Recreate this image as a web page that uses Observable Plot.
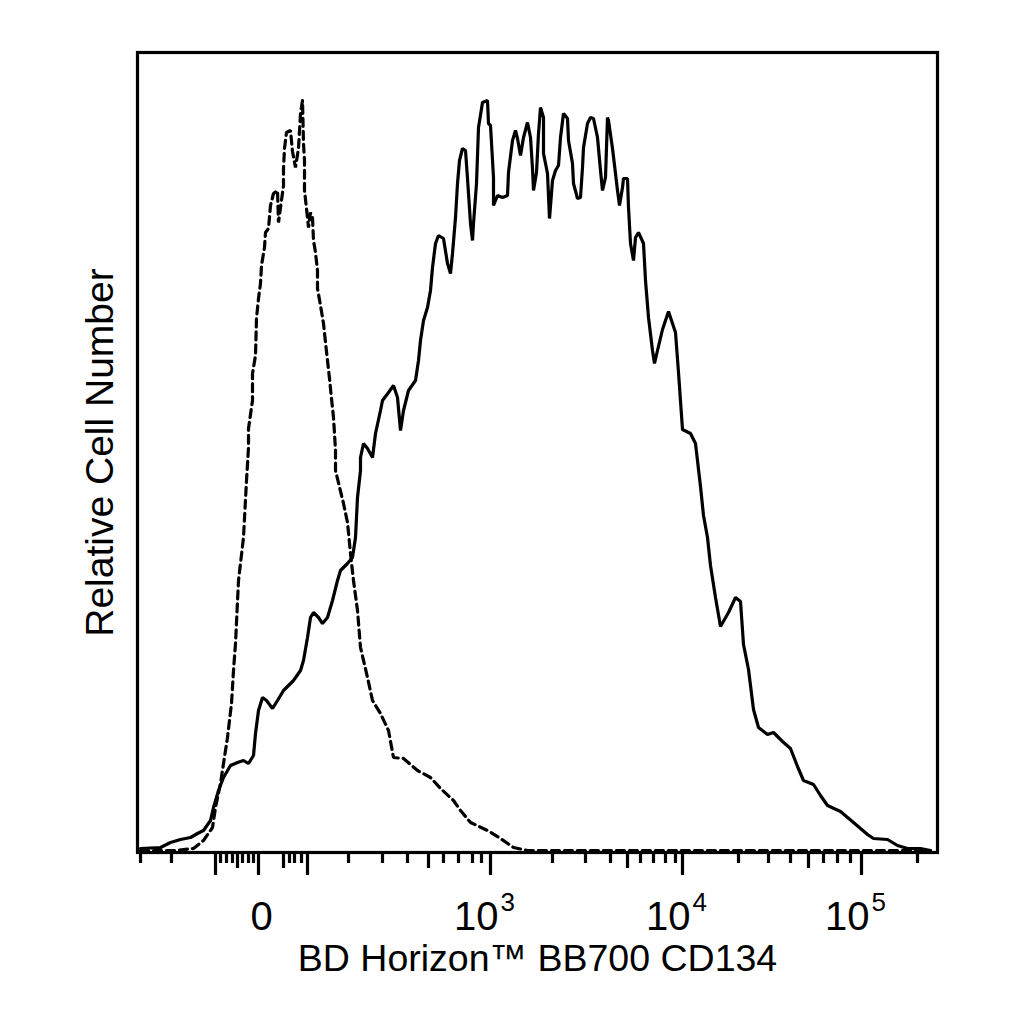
<!DOCTYPE html>
<html><head><meta charset="utf-8">
<script src="https://cdn.jsdelivr.net/npm/d3@7"></script>
<script src="https://cdn.jsdelivr.net/npm/@observablehq/plot@0.6"></script>
<style>body{margin:0;background:#fff;} svg{display:block;}</style>
</head><body><div id="chart"></div>
<script>
// Display channel (0–800) of the biexponential axis, and relative counts
const dashedChannel = [3,38,56,66,75,78,83,86,90,94,96,98,101,106,109,111,111,115,115,118,119,121,123,124,127,128,131,133,136,140,141,146,146,147,149,153,155,158,161,163,165,166,167,167,169,171,173,175,176,178,180,180,183,186,188,190,192,194,196,197,198,198,206,210,213,216,220,223,230,235,243,251,256,266,280,293,303,316,323,333,350,363,376,390,463,563,663,793];
const dashedCount = [2,2,4,12,25,45,69,89,115,149,182,209,272,315,372,405,424,452,479,497,534,554,569,587,605,620,624,647,659,662,630,667,684,704,720,722,701,685,704,739,752,709,692,662,644,625,640,635,612,600,582,564,547,529,510,492,474,454,435,419,402,382,349,330,299,272,242,205,175,152,139,122,95,94,82,75,64,52,42,30,22,14,5,2,2,2,2,2];

const solidChannel = [3,23,33,43,53,60,66,73,76,81,86,93,100,106,111,116,118,121,125,129,135,140,146,156,163,166,170,173,176,181,185,190,195,200,203,210,215,218,220,223,223,226,230,235,238,243,245,251,256,260,263,266,271,278,281,283,286,290,293,295,298,301,306,310,313,315,318,320,322,325,328,330,333,335,336,339,341,345,350,351,353,356,356,360,365,370,371,375,378,380,383,386,390,393,395,396,399,401,403,406,406,410,412,415,418,421,423,426,430,431,435,436,440,443,445,446,450,453,456,460,463,465,468,470,471,475,478,480,482,485,486,490,491,493,496,498,501,506,508,511,515,517,520,525,531,538,541,545,553,558,563,566,570,573,578,583,591,598,603,606,611,616,621,630,636,645,653,660,666,676,683,690,703,716,730,736,750,760,770,783,793];
const solidCount = [4,5,10,13,15,19,22,32,45,62,75,87,90,92,89,97,119,142,155,152,144,152,162,172,182,192,215,235,240,235,229,235,252,272,282,289,295,315,355,382,395,409,404,395,419,442,452,460,467,455,422,442,462,472,492,512,532,545,562,585,609,617,614,589,579,599,635,669,692,704,702,674,629,612,629,669,725,750,752,729,727,675,647,657,655,657,680,712,722,714,697,715,730,715,684,662,680,719,745,735,699,679,634,672,682,687,715,739,734,712,689,669,654,655,685,705,729,735,734,715,682,662,675,735,732,704,679,662,647,665,674,674,645,609,592,615,620,609,572,535,502,489,502,523,541,520,480,423,419,409,366,337,315,287,255,226,240,255,251,208,183,143,125,118,120,111,104,86,72,68,57,47,41,30,18,14,13,7,4,4,2];

// Tick positions (display channel)
const longTicks = [78, 121, 170, 353, 545, 724];
const mediumTicks = [100, 146, 291, 490, 671];
const smallTicks = [3, 34, 83, 89, 95, 105, 111, 116, 152, 157, 164, 211, 245, 270, 306, 321, 335, 344, 415, 448, 473, 503, 516, 528, 538, 601, 631, 653, 686, 700, 713, 780];
const zeroTick = [121];
const powerTicks = [353, 545, 724];
const powerBase = ["10", "10", "10"];
const powerExp = ["3", "4", "5"];
const xTitle = "BD Horizon™ BB700 CD134";
const yTitle = "Relative Cell Number";

const dashed = dashedChannel.slice(0, Math.min(dashedChannel.length, dashedCount.length)).map((x, i) => ({x, y: dashedCount[i]}));
const solid = solidChannel.slice(0, Math.min(solidChannel.length, solidCount.length)).map((x, i) => ({x, y: solidCount[i]}));
const powers = powerTicks.map((x, i) => ({x, base: powerBase[i], exp: powerExp[i]}));

const font = "'Liberation Sans', Arial, Helvetica, sans-serif";
const sw = 3.2;

const chart = Plot.plot({
  width: 1024, height: 1024,
  marginTop: 52, marginRight: 87, marginBottom: 172, marginLeft: 137,
  style: {background: "#fff", fontFamily: font, overflow: "visible", color: "#000"},
  x: {domain: [0, 800], label: null},
  y: {domain: [0, 800], axis: null, label: null},
  marks: [
    Plot.line(dashed, {x: "x", y: "y", stroke: "#000", strokeWidth: sw, strokeDasharray: "8,5", strokeLinejoin: "miter"}),
    Plot.line(solid, {x: "x", y: "y", stroke: "#000", strokeWidth: sw, strokeLinejoin: "miter"}),
    Plot.frame({stroke: "#000", strokeWidth: sw}),
    Plot.axisX({ticks: longTicks, tickSize: 23, tickPadding: 0, tickFormat: () => "", strokeWidth: sw, stroke: "#000", label: null}),
    Plot.axisX({ticks: mediumTicks, tickSize: 16, tickPadding: 0, tickFormat: () => "", strokeWidth: sw, stroke: "#000", label: null}),
    Plot.axisX({ticks: smallTicks, tickSize: 11, tickPadding: 0, tickFormat: () => "", strokeWidth: sw, stroke: "#000", label: null}),
    Plot.text(zeroTick, {x: d => d, text: () => "0", frameAnchor: "bottom", dx: 3, dy: 77, textAnchor: "middle", lineAnchor: "bottom", fontSize: 40, fill: "#000"}),
    Plot.text(powers, {x: "x", text: "base", frameAnchor: "bottom", dx: 8, dy: 77, textAnchor: "end", lineAnchor: "bottom", fontSize: 40, fill: "#000"}),
    Plot.text(powers, {x: "x", text: "exp", frameAnchor: "bottom", dx: 10, dy: 58, textAnchor: "start", lineAnchor: "bottom", fontSize: 26, fill: "#000"}),
    Plot.text([xTitle], {text: d => d, frameAnchor: "bottom", dy: 118, textAnchor: "middle", lineAnchor: "bottom", fontSize: 37.5, fill: "#000"}),
    Plot.text([yTitle], {text: d => d, frameAnchor: "left", rotate: -90, dx: -25, textAnchor: "middle", lineAnchor: "bottom", fontSize: 39, fill: "#000"})
  ]
});
document.getElementById("chart").appendChild(chart);
</script>
</body></html>
